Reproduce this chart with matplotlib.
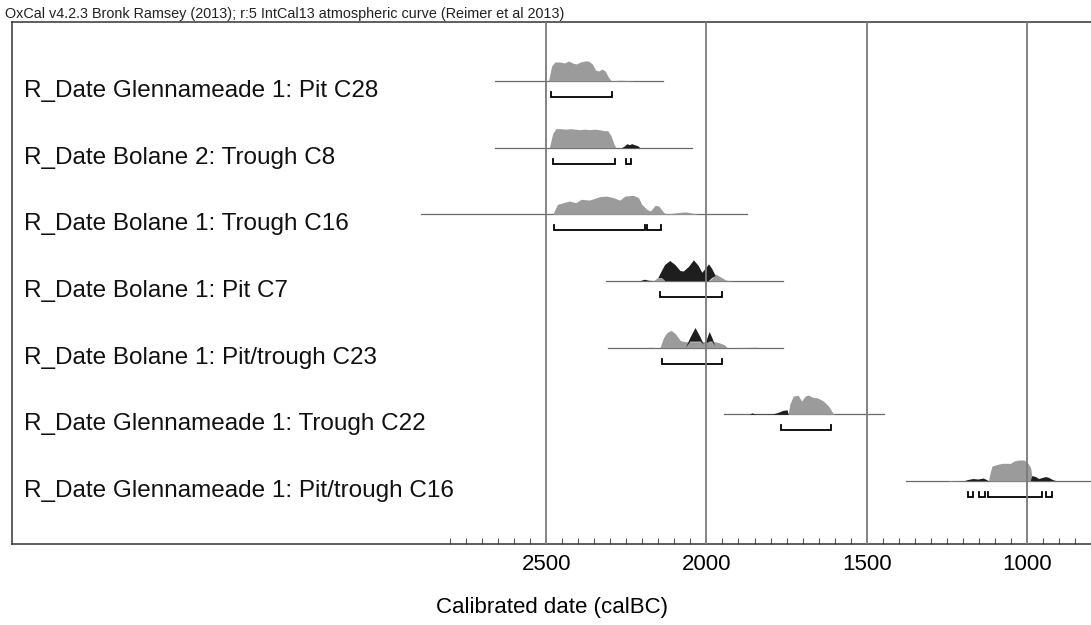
import numpy as np
import matplotlib
matplotlib.use("Agg")
import matplotlib.pyplot as plt
import matplotlib.transforms as mtransforms

plt.rcParams['font.family'] = ['Liberation Sans', 'DejaVu Sans']

# ---------------- data ----------------
labels = [
    "R_Date Glennameade 1: Pit C28",
    "R_Date Bolane 2: Trough C8",
    "R_Date Bolane 1: Trough C16",
    "R_Date Bolane 1: Pit C7",
    "R_Date Bolane 1: Pit/trough C23",
    "R_Date Glennameade 1: Trough C22",
    "R_Date Glennameade 1: Pit/trough C16",
]

# extent of the thin baseline of each distribution (calBC)
line_from = [2660, 2660, 2890, 2313, 2308, 1945, 1377]
line_to = [2135, 2045, 1875, 1761, 1762, 1445, 804]

# probability curves: dates (calBC) and relative densities (grey / dark parts)
r1_dates = [2493, 2483, 2473, 2458, 2443, 2430, 2418, 2406, 2393, 2380, 2368, 2356,
            2346, 2336, 2326, 2316, 2306, 2298, 2288, 2268, 2248, 2228]
r1_grey = [0, 15, 19, 19, 18, 20, 18, 17, 19, 20, 20, 17, 11, 10, 12, 10, 4, 0.5,
           0.5, 0.8, 0.5, 0.3]
r1_dark = [0] * 22

r2_dates = [2490, 2480, 2470, 2455, 2440, 2425, 2410, 2395, 2380, 2365, 2350, 2335,
            2320, 2308, 2298, 2288, 2282, 2265, 2255, 2248, 2241, 2233, 2225, 2215, 2208]
r2_grey = [0, 14, 19, 19, 18.5, 19, 18.5, 18, 18.5, 18, 18.5, 18, 17, 17, 12, 3, 0,
           0, 0, 0, 0, 0, 0, 0, 0]
r2_dark = [0] * 17 + [0, 2, 4, 3, 4, 3, 2, 0]

r3_dates = [2480, 2465, 2428, 2407, 2391, 2365, 2333, 2312, 2291, 2270, 2254, 2228,
            2212, 2202, 2186, 2175, 2160, 2149, 2133, 2123, 2081, 2065, 2049, 2028]
r3_grey = [0, 10, 13.3, 11.7, 15, 14.3, 17.7, 18.3, 16.7, 14.3, 18.3, 19, 16.7, 10,
           5, 3.3, 9, 8.3, 1.7, 0.5, 2, 2.5, 1.5, 0.3]
r3_dark = [0] * 24

r4_dates = [2205, 2192, 2180, 2165, 2150, 2139, 2129, 2113, 2097, 2081, 2071, 2055,
            2039, 2024, 2013, 2003, 1992, 1982, 1971, 1961, 1950, 1940, 1918]
r4_grey = [0, 0, 0, 0.5, 4, 3, 0, 0, 0, 0, 0, 0, 0, 0, 0, 0, 0, 3, 7, 5, 3, 1, 0]
r4_dark = [0, 1.3, 0.3, 0.5, 3, 10, 16, 20, 16, 10, 9.5, 14, 20.7, 15, 8.3, 12,
           16.7, 12, 5, 2, 0.5, 0, 0.3]

r5_dates = [2181, 2145, 2134, 2124, 2110, 2097, 2081, 2066, 2064, 2050, 2034, 2018,
            2008, 2004, 2003, 1990, 1982, 1973, 1961, 1945, 1934, 1841]
r5_grey = [0.5, 0, 10, 15, 17.3, 14, 7, 6, 6, 6, 6, 6, 6, 6, 6, 6, 6, 6, 5, 3, 0, 0.5]
r5_dark = [0, 0, 0, 0, 0, 0, 0, 0, 0, 10, 19.7, 10, 3, 0, 4, 15.7, 10, 2, 0, 0, 0, 0]

r6_dates = [1866, 1858, 1850, 1824, 1792, 1777, 1761, 1748, 1745, 1740, 1729, 1714,
            1703, 1692, 1682, 1666, 1655, 1635, 1619, 1603]
r6_grey = [0, 0, 0, 0, 0, 0, 0, 0, 0, 10, 18.3, 19, 13.3, 18.3, 19.3, 16.7, 16.7,
           13.3, 8.3, 0]
r6_dark = [0, 1.5, 0.5, 0.3, 0.5, 2, 4, 4.5, 0, 0, 0, 0, 0, 0, 0, 0, 0, 0, 0, 0]

r7_dates = [1245, 1193, 1183, 1167, 1151, 1135, 1125, 1120, 1115, 1109, 1093, 1077,
            1062, 1051, 1040, 1025, 1009, 995, 988, 983, 972, 962, 951, 940, 930,
            919, 909]
r7_grey = [0.5, 0, 0, 0, 0, 0, 0, 0, 8, 15, 16.5, 17.7, 17.7, 17.7, 20, 21, 21, 17,
           13, 0, 0, 0, 0, 0, 0, 0, 0]
r7_dark = [0, 0, 1, 2, 1.5, 2.5, 1, 0, 0, 0, 0, 0, 0, 0, 0, 0, 0, 0, 0, 5, 4, 2, 3,
           4, 3, 1, 0]

row_dates = [r1_dates, r2_dates, r3_dates, r4_dates, r5_dates, r6_dates, r7_dates]
row_grey = [r1_grey, r2_grey, r3_grey, r4_grey, r5_grey, r6_grey, r7_grey]
row_dark = [r1_dark, r2_dark, r3_dark, r4_dark, r5_dark, r6_dark, r7_dark]

# highest-probability ranges (calBC, from -> to)
ranges = [
    [(2484, 2296)],
    [(2479, 2284), (2250, 2234)],
    [(2476, 2191), (2186, 2142)],
    [(2145, 1950)],
    [(2140, 1950)],
    [(1768, 1610)],
    [(1183, 1167), (1151, 1132), (1120, 954), (940, 921)],
]

major_ticks = [2500, 2000, 1500, 1000]
header = "OxCal v4.2.3 Bronk Ramsey (2013); r:5 IntCal13 atmospheric curve (Reimer et al 2013)"
xlabel = "Calibrated date (calBC)"

# ---------------- figure ----------------
W, H = 1091, 625
fig = plt.figure(figsize=(W / 100, H / 100), dpi=100)
ax_left, ax_right, ax_top, ax_bot = 12, 1091, 22, 544
ax = fig.add_axes([ax_left / W, 1 - ax_bot / H, (ax_right - ax_left) / W,
                   (ax_bot - ax_top) / H])

row_px = 66.67
scale = 1.0 / row_px   # pixel height -> row units
ax.set_ylim((ax_bot - 81) / row_px, (ax_top - 81) / row_px)
ax.set_xlim(4167, 802)

for i in range(len(labels)):
    d = np.array(row_dates[i], float)
    g = np.array(row_grey[i], float) * scale
    k = np.array(row_dark[i], float) * scale
    ax.plot([line_from[i], line_to[i]], [i, i], color='#6a6a6a', lw=0.9, zorder=2)
    ax.fill_between(d, i, i - g, color='#9b9b9b', lw=0, zorder=3)
    base = i - np.minimum(g, k)
    ax.fill_between(d, base, i - k, where=k > 0, color='#1e1e1e', lw=0, zorder=4,
                    interpolate=True)
    yb = i + 16 * scale
    for a, b in ranges[i]:
        ax.plot([a, a, b, b], [yb - 5 * scale, yb, yb, yb - 5 * scale],
                color='black', lw=1.3, zorder=5, solid_joinstyle='miter')

# labels
trans = mtransforms.blended_transform_factory(ax.transAxes, ax.transData)
for i, lab in enumerate(labels):
    ax.text(12 / (ax_right - ax_left), i + 10 * scale, lab, transform=trans,
            fontsize=17.5, va='center', ha='left', color='#111111')

# vertical grid lines
for t in major_ticks:
    ax.axvline(t, color='#7a7a7a', lw=1.3, zorder=6)

# axis styling
for s in ['left', 'top', 'bottom']:
    ax.spines[s].set_color('#333333')
    ax.spines[s].set_linewidth(1.1)
ax.spines['right'].set_visible(False)
ax.set_yticks([])
ax.set_xticks(major_ticks)
ax.set_xticklabels([str(t) for t in major_ticks])
ax.set_xticks(np.arange(2800, 799, -50), minor=True)
ax.tick_params(axis='x', which='major', length=0, pad=7, labelsize=16)
ax.tick_params(axis='x', which='minor', direction='in', length=4, width=0.8,
               color='#555555')
ax.set_xlabel(xlabel, fontsize=16, labelpad=16)

fig.text(5 / W, 1 - 14 / H, header, fontsize=10.4, va='center', ha='left',
         color='#222222')

fig.savefig("out.png", dpi=100)
